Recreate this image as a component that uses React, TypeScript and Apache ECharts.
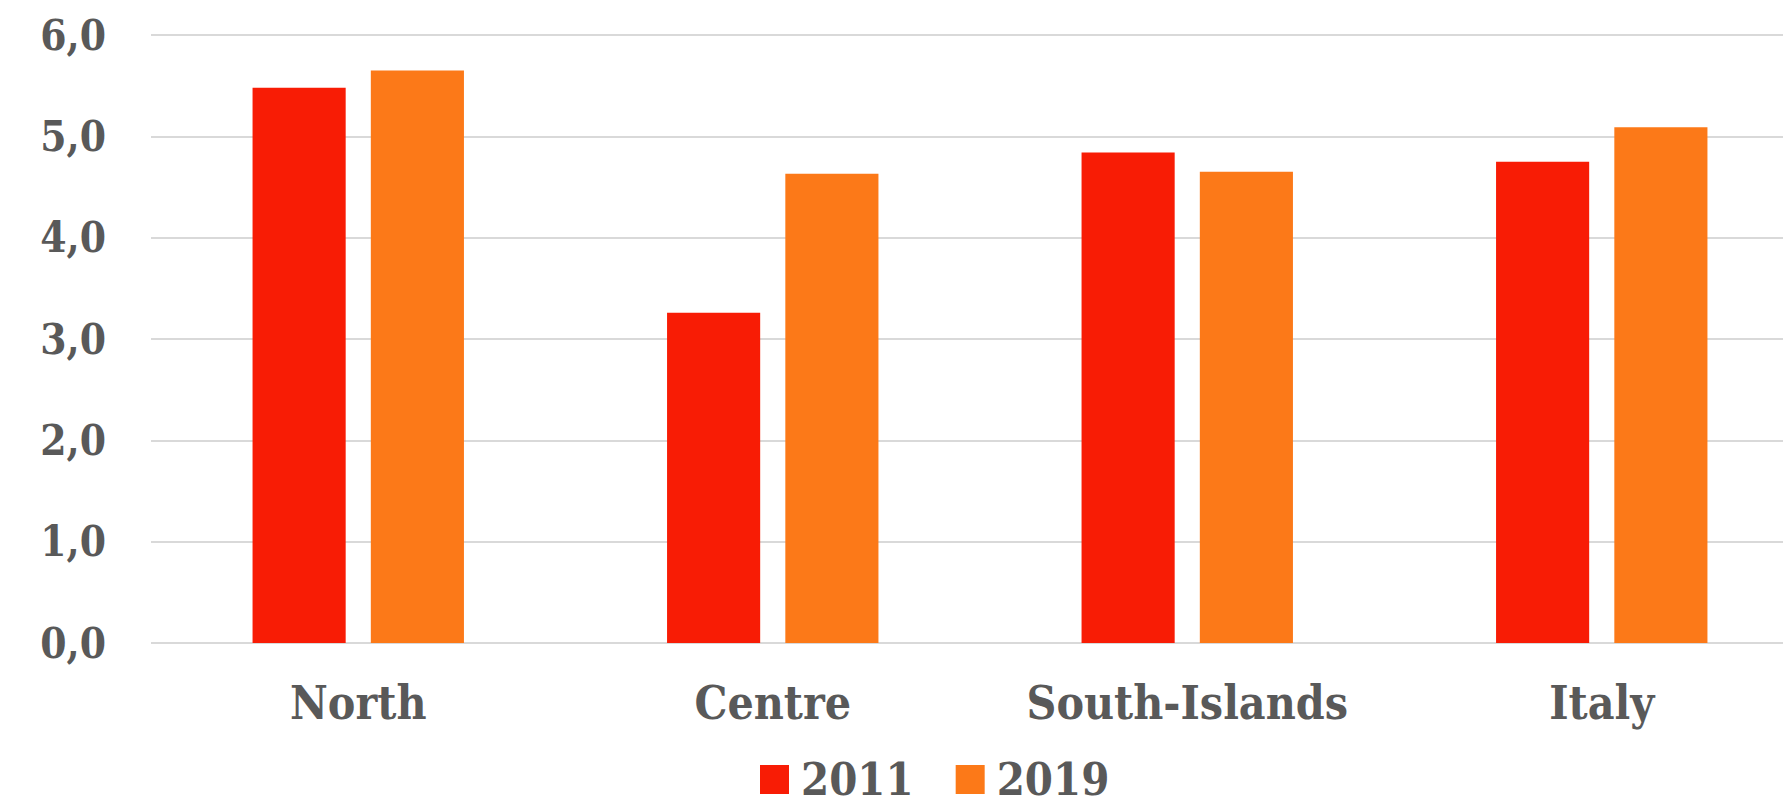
import React, { useEffect, useRef } from "react";
import * as echarts from "echarts";

const categories = ["North", "Centre", "South-Islands", "Italy"];
const seriesNames = ["2011", "2019"];
const values2011 = [5.48, 3.26, 4.84, 4.75];
const values2019 = [5.65, 4.63, 4.65, 5.09];
const yTickLabels = ["0,0", "1,0", "2,0", "3,0", "4,0", "5,0", "6,0"];
const colors = ["#F81C05", "#FC7918"];

const FONT = "'DejaVu Serif Condensed', 'DejaVu Serif', serif";
const TEXT = "#595959";

export default function App() {
  const ref = useRef<HTMLDivElement>(null);
  useEffect(() => {
    if (!ref.current) return;
    const chart = echarts.init(ref.current, undefined, { renderer: "svg" });
    chart.setOption({
      animation: false,
      backgroundColor: "#ffffff",
      grid: { left: 151, top: 35, width: 1658, height: 608, containLabel: false },
      legend: {
        data: seriesNames,
        left: 760,
        top: 757,
        padding: 0,
        icon: "rect",
        itemWidth: 29,
        itemHeight: 29,
        itemGap: 42,
        textStyle: {
          color: TEXT,
          fontFamily: FONT,
          fontWeight: "bold",
          fontSize: 45,
          padding: [0, 0, 0, 7],
        },
      },
      xAxis: {
        type: "category",
        data: categories,
        axisLine: { show: false },
        axisTick: { show: false },
        axisLabel: {
          interval: 0,
          color: TEXT,
          fontFamily: FONT,
          fontWeight: "bold",
          fontSize: 46,
          margin: 37,
        },
      },
      yAxis: {
        type: "value",
        min: 0,
        max: 6,
        interval: 1,
        axisLine: { show: false },
        axisTick: { show: false },
        splitLine: { lineStyle: { color: "#D9D9D9", width: 2 } },
        axisLabel: {
          color: TEXT,
          fontFamily: FONT,
          fontWeight: "bold",
          fontSize: 42,
          margin: 45,
          formatter: (v: number) => yTickLabels[Math.round(v)] ?? "",
        },
      },
      series: [
        {
          name: seriesNames[0],
          type: "bar",
          data: values2011,
          itemStyle: { color: colors[0] },
          barGap: "27%",
          barCategoryGap: "49%",
        },
        {
          name: seriesNames[1],
          type: "bar",
          data: values2019,
          itemStyle: { color: colors[1] },
          barGap: "27%",
          barCategoryGap: "49%",
        },
      ],
    });
    return () => chart.dispose();
  }, []);
  return (
    <div
      style={{ position: "fixed", left: 0, top: 0, width: 1783, height: 810, overflow: "hidden", background: "#fff" }}
    >
      <div ref={ref} style={{ width: 1830, height: 810 }} />
    </div>
  );
}
